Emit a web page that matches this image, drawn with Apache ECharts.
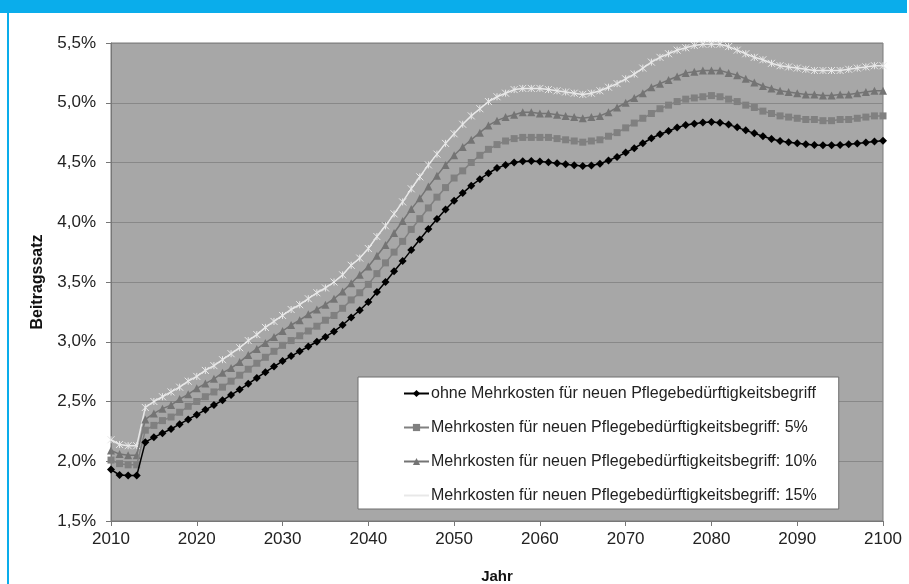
<!DOCTYPE html>
<html>
<head>
<meta charset="utf-8">
<script src="https://cdn.jsdelivr.net/npm/echarts@6/dist/echarts.min.js"></script>
<style>
  html, body { margin: 0; padding: 0; background: #fff; }
  #chart { width: 909px; height: 584px; }
</style>
</head>
<body>
<div id="chart"></div>
<script>
// Beitragssatz der Pflegeversicherung 2010–2100, jährliche Werte (in %)
const firstYear = 2010;
const lastYear = 2100;

const seriesNames = [
  'ohne Mehrkosten für neuen Pflegebedürftigkeitsbegriff',
  'Mehrkosten für neuen Pflegebedürftigkeitsbegriff: 5%',
  'Mehrkosten für neuen Pflegebedürftigkeitsbegriff: 10%',
  'Mehrkosten für neuen Pflegebedürftigkeitsbegriff: 15%'
];

const ohneMehrkosten = [
  1.93, 1.885, 1.88, 1.88, 2.16, 2.20, 2.235, 2.27, 2.31, 2.35,
  2.39, 2.43, 2.47, 2.51, 2.555, 2.60, 2.648, 2.697, 2.745, 2.792,
  2.838, 2.88, 2.92, 2.96, 3.00, 3.04, 3.086, 3.14, 3.203, 3.264,
  3.333, 3.417, 3.50, 3.59, 3.675, 3.767, 3.856, 3.944, 4.028, 4.106,
  4.18, 4.244, 4.306, 4.36, 4.41, 4.453, 4.48, 4.50, 4.51, 4.512,
  4.508, 4.503, 4.494, 4.486, 4.476, 4.47, 4.475, 4.489, 4.517, 4.547,
  4.583, 4.62, 4.661, 4.703, 4.736, 4.764, 4.792, 4.814, 4.825, 4.835,
  4.839, 4.833, 4.817, 4.794, 4.769, 4.744, 4.719, 4.697, 4.68, 4.669,
  4.661, 4.653, 4.647, 4.644, 4.644, 4.647, 4.653, 4.658, 4.667, 4.675,
  4.681
];

const mehrkosten5 = [
  2.01, 1.98, 1.97, 1.97, 2.26, 2.30, 2.34, 2.37, 2.41, 2.46,
  2.50, 2.54, 2.58, 2.62, 2.67, 2.72, 2.77, 2.82, 2.87, 2.92,
  2.97, 3.01, 3.05, 3.09, 3.13, 3.18, 3.22, 3.28, 3.35, 3.41,
  3.48, 3.57, 3.66, 3.75, 3.84, 3.94, 4.03, 4.12, 4.21, 4.29,
  4.37, 4.43, 4.50, 4.56, 4.61, 4.65, 4.68, 4.70, 4.71, 4.71,
  4.71, 4.71, 4.70, 4.69, 4.68, 4.67, 4.68, 4.69, 4.72, 4.75,
  4.79, 4.83, 4.87, 4.91, 4.95, 4.98, 5.01, 5.03, 5.04, 5.05,
  5.06, 5.05, 5.03, 5.01, 4.98, 4.96, 4.93, 4.91, 4.89, 4.88,
  4.87, 4.86, 4.86, 4.85, 4.85, 4.86, 4.86, 4.87, 4.88, 4.89,
  4.89
];

const mehrkosten10 = [
  2.09, 2.06, 2.05, 2.05, 2.35, 2.40, 2.44, 2.47, 2.52, 2.56,
  2.61, 2.65, 2.69, 2.74, 2.78, 2.83, 2.89, 2.94, 2.99, 3.04,
  3.09, 3.14, 3.18, 3.23, 3.27, 3.31, 3.36, 3.42, 3.49, 3.56,
  3.63, 3.72, 3.81, 3.91, 4.01, 4.11, 4.20, 4.30, 4.39, 4.48,
  4.56, 4.63, 4.69, 4.75, 4.81, 4.85, 4.88, 4.90, 4.92, 4.92,
  4.91, 4.91, 4.90, 4.89, 4.88, 4.87, 4.88, 4.89, 4.92, 4.96,
  5.00, 5.04, 5.08, 5.13, 5.16, 5.19, 5.22, 5.25, 5.26, 5.27,
  5.27, 5.27, 5.25, 5.23, 5.20, 5.17, 5.14, 5.12, 5.10, 5.09,
  5.08, 5.07, 5.07, 5.06, 5.06, 5.07, 5.07, 5.08, 5.09, 5.10,
  5.10
];

const mehrkosten15 = [
  2.18, 2.14, 2.13, 2.13, 2.45, 2.50, 2.54, 2.58, 2.62, 2.67,
  2.71, 2.76, 2.80, 2.85, 2.90, 2.95, 3.01, 3.06, 3.12, 3.17,
  3.22, 3.27, 3.31, 3.36, 3.41, 3.45, 3.50, 3.56, 3.64, 3.70,
  3.78, 3.88, 3.97, 4.07, 4.17, 4.28, 4.38, 4.48, 4.57, 4.66,
  4.74, 4.82, 4.89, 4.95, 5.01, 5.05, 5.08, 5.11, 5.12, 5.12,
  5.12, 5.11, 5.10, 5.09, 5.08, 5.07, 5.08, 5.10, 5.13, 5.16,
  5.20, 5.24, 5.29, 5.34, 5.38, 5.41, 5.44, 5.46, 5.48, 5.49,
  5.49, 5.49, 5.47, 5.44, 5.41, 5.38, 5.36, 5.33, 5.31, 5.30,
  5.29, 5.28, 5.27, 5.27, 5.27, 5.27, 5.28, 5.29, 5.30, 5.31,
  5.31
];

const yTicks = { min: 1.5, max: 5.5, step: 0.5 };
const xTicks = { min: 2010, max: 2100, step: 10 };

const years = [];
for (let y = firstYear; y <= lastYear; y++) years.push(y);
const pairs = vals => years.map((y, i) => [y, vals[i]]);

const FONT = "'Liberation Sans', Arial, sans-serif";
const crossPath = 'path://M0,0L10,10M10,0L0,10M5,0L5,10';

const chart = echarts.init(document.getElementById('chart'), null, { renderer: 'canvas' });

chart.setOption({
  animation: false,
  backgroundColor: '#ffffff',
  graphic: [
    { type: 'rect', left: 0, top: 0, shape: { width: 907, height: 13 }, style: { fill: '#0AADEB' }, z: 10 },
    { type: 'rect', left: 7, top: 0, shape: { width: 2, height: 584 }, style: { fill: '#0AADEB' }, z: 10 }
  ],
  grid: {
    left: 111, right: 26, top: 43, bottom: 63,
    outerBoundsMode: 'none', containLabel: false,
    show: true, backgroundColor: '#A7A7A7', borderColor: '#7a7a7a', borderWidth: 1
  },
  legend: {
    orient: 'vertical',
    left: 358, top: 377,
    padding: [7, 22, 4, 45],
    itemGap: 15,
    itemWidth: 25, itemHeight: 9,
    backgroundColor: '#ffffff',
    borderColor: '#6e6e6e', borderWidth: 1,
    textStyle: { fontFamily: FONT, fontSize: 16, lineHeight: 19, color: '#222', padding: [0, 0, 0, -3] },
    data: seriesNames.map(n => ({ name: n, itemStyle: { borderWidth: 0 } }))
  },
  xAxis: {
    type: 'value',
    min: xTicks.min, max: xTicks.max, interval: xTicks.step,
    name: 'Jahr', nameLocation: 'middle', nameGap: 48,
    nameTextStyle: { fontFamily: FONT, fontSize: 15, fontWeight: 'bold', color: '#111' },
    axisLine: { lineStyle: { color: '#777', width: 1 } },
    axisTick: { show: true, length: 5, lineStyle: { color: '#777' } },
    axisLabel: { fontFamily: FONT, fontSize: 17, color: '#222', margin: 10, formatter: v => String(v) },
    splitLine: { show: false }
  },
  yAxis: {
    type: 'value',
    min: yTicks.min, max: yTicks.max, interval: yTicks.step,
    name: 'Beitragssatz', nameLocation: 'middle', nameGap: 65,
    nameTextStyle: { fontFamily: FONT, fontSize: 16, fontWeight: 'bold', color: '#111' },
    axisLine: { show: true, lineStyle: { color: '#777', width: 1 } },
    axisTick: { show: true, length: 5, lineStyle: { color: '#777' } },
    axisLabel: {
      fontFamily: FONT, fontSize: 17, color: '#222', margin: 15,
      formatter: v => v.toFixed(1).replace('.', ',') + '%'
    },
    splitLine: { show: true, lineStyle: { color: '#888', width: 1 } }
  },
  series: [
    {
      name: seriesNames[0], type: 'line', data: pairs(ohneMehrkosten),
      symbol: 'diamond', symbolSize: 8,
      lineStyle: { color: '#000', width: 1.5 },
      itemStyle: { color: '#000' }, z: 5
    },
    {
      name: seriesNames[1], type: 'line', data: pairs(mehrkosten5),
      symbol: 'rect', symbolSize: 7,
      lineStyle: { color: '#808080', width: 1.5 },
      itemStyle: { color: '#808080' }, z: 4
    },
    {
      name: seriesNames[2], type: 'line', data: pairs(mehrkosten10),
      symbol: 'triangle', symbolSize: 8,
      lineStyle: { color: '#747474', width: 1.5 },
      itemStyle: { color: '#747474' }, z: 3
    },
    {
      name: seriesNames[3], type: 'line', data: pairs(mehrkosten15),
      symbol: crossPath, symbolSize: 7,
      lineStyle: { color: '#E8E8E8', width: 1.5 },
      itemStyle: { color: 'none', borderColor: '#E8E8E8', borderWidth: 1 }, z: 2
    }
  ]
});
</script>
</body>
</html>
